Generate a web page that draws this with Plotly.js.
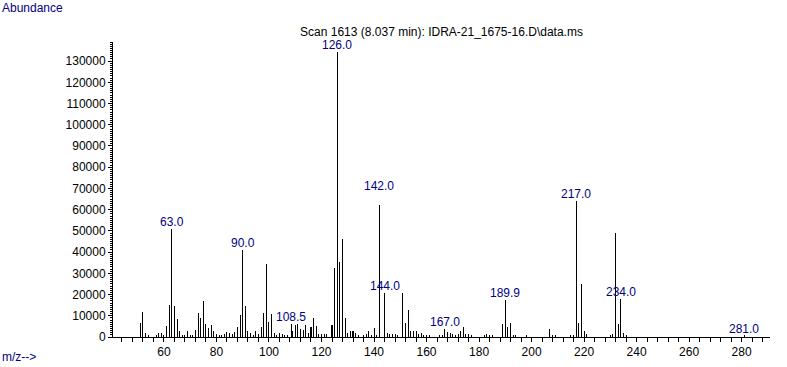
<!DOCTYPE html>
<html>
<head>
<meta charset="utf-8">
<script src="https://cdn.plot.ly/plotly-3.0.1.min.js"></script>
<style>
  html, body { margin: 0; padding: 0; background: #ffffff; }
  #chart { width: 787px; height: 367px; }
</style>
</head>
<body>
<div id="chart"></div>
<script>
// ---- data ----
var mz = [
  51, 52, 53, 54, 57, 58, 59, 60, 61, 62, 63, 64, 65, 66, 67, 68, 69, 70,
  71, 72, 73, 74, 75, 76, 77, 78, 79, 80, 81, 82, 83, 84, 85, 86, 87, 88,
  89, 90, 91, 92, 93, 94, 95, 96, 97, 98, 99, 100, 101, 102, 103, 104, 105,
  106, 107, 108.5, 109, 110, 111, 112, 113, 114, 115, 116, 117, 118, 119, 120,
  121, 122, 124, 125, 126, 127, 128, 129, 130, 131, 132, 133, 134, 136, 137,
  138, 139, 140, 141, 142, 144, 145, 146, 147, 148, 149, 151, 152, 153, 154,
  155, 156, 157, 158, 159, 160, 161, 165, 166, 167, 168, 169, 170, 171, 172,
  173, 174, 175, 176, 177, 182, 183, 184, 185, 189, 189.9, 191, 192, 193, 194,
  198, 207, 208, 209, 215, 216, 217, 218, 219, 220, 221, 230, 231, 232, 233,
  234, 235, 236, 281
];
var abundance = [
  6700, 11800, 2000, 900, 500, 2000, 2000, 1100, 5300, 15000, 50800, 14600, 8500, 2800, 500, 500, 2800, 900,
  900, 3400, 11300, 8900, 16900, 6100, 4200, 5600, 2700, 1400, 900, 900, 1400, 2400, 1900, 1600, 2400, 4700,
  10300, 41200, 14600, 2800, 1900, 900, 2800, 1400, 4700, 11300, 34300, 7100, 10800, 1900, 900, 1900, 1400,
  900, 900, 6100, 2800, 5600, 6100, 3800, 3300, 5600, 1900, 4700, 8900, 5200, 1400, 1400,
  1400, 1400, 5600, 32400, 134400, 35300, 46100, 8900, 1900, 2800, 2800, 1900, 900, 900, 1400,
  2800, 900, 4200, 900, 62000, 20500, 1900, 1400, 1400, 1400, 500, 20700, 6600, 12700, 2800,
  2800, 2800, 1400, 1900, 500, 500, 500, 900, 900, 3800, 2400, 1900, 1400, 900, 1400,
  2800, 4700, 1400, 1400, 500, 500, 1400, 500, 900, 6100, 17400, 4700, 6600, 900, 500,
  500, 3600, 900, 500, 500, 900, 63900, 6400, 24800, 2700, 1300, 500, 1300, 48900, 6000,
  17700, 1700, 900, 500
];
var labelMz   = [63, 90, 108.5, 126, 142, 144, 167, 189.9, 217, 234, 281];
var labelText = ["63.0", "90.0", "108.5", "126.0", "142.0", "144.0", "167.0", "189.9", "217.0", "234.0", "281.0"];

var titleText = "Scan 1613 (8.037 min): IDRA-21_1675-16.D\\data.ms";
var yTitleText = "Abundance";
var xTitleText = "m/z-->";

// ---- styling ----
var FONT = "'Liberation Sans', Arial, sans-serif";
var NAVY = "#000080";
var labelLift = { 142: 12 };   // extra raise (px) for labels moved up in the reference

var annotations = labelMz.map(function (m, i) {
  var idx = mz.indexOf(m);
  return {
    x: m, y: abundance[idx], xref: "x", yref: "y",
    text: labelText[i], showarrow: false,
    xanchor: "center", yanchor: "bottom",
    yshift: -2 + (labelLift[m] || 0),
    font: { family: FONT, size: 12, color: NAVY }
  };
});
annotations.push({
  xref: "paper", yref: "paper", x: -0.172, y: 1.115,
  xanchor: "left", yanchor: "middle", showarrow: false,
  text: yTitleText, font: { family: FONT, size: 12, color: NAVY }
});
annotations.push({
  xref: "paper", yref: "paper", x: -0.172, y: -0.068,
  xanchor: "left", yanchor: "middle", showarrow: false,
  text: xTitleText, font: { family: FONT, size: 12, color: NAVY }
});

var trace = {
  type: "bar",
  x: mz,
  y: abundance,
  width: 0.01,
  marker: { color: "#000000", line: { width: 0 } },
  hoverinfo: "skip"
};

var layout = {
  width: 787, height: 367,
  margin: { l: 113, r: 17, t: 42, b: 30, pad: 0 },
  paper_bgcolor: "#ffffff", plot_bgcolor: "#ffffff",
  showlegend: false,
  font: { family: FONT, size: 12, color: "#000000" },
  title: {
    text: titleText, x: 0.5, xref: "paper", xanchor: "center",
    y: 1 - 32 / 367, yanchor: "middle",
    font: { family: FONT, size: 12, color: "#000000" }
  },
  xaxis: {
    range: [40.6, 290.8], tick0: 0, dtick: 20,
    ticks: "outside", ticklen: 4, tickcolor: "#000000", tickwidth: 1,
    showline: true, linecolor: "#000000", linewidth: 1,
    showgrid: false, zeroline: false,
    tickfont: { family: FONT, size: 12, color: "#000000" },
    minor: { dtick: 4, tick0: 0, ticks: "outside", ticklen: 4, tickcolor: "#000000", tickwidth: 1, showgrid: false }
  },
  yaxis: {
    range: [0, 139000], tick0: 0, dtick: 10000, tickformat: "d",
    ticks: "outside", ticklen: 4, tickcolor: "#000000", tickwidth: 1,
    showline: true, linecolor: "#000000", linewidth: 1,
    showgrid: false, zeroline: false,
    tickfont: { family: FONT, size: 12, color: "#000000" },
    minor: { dtick: 1000, tick0: 0, ticks: "outside", ticklen: 2, tickcolor: "#000000", tickwidth: 1, showgrid: false }
  },
  bargap: 0,
  hovermode: false,
  annotations: annotations
};

Plotly.newPlot("chart", [trace], layout, { displayModeBar: false });
</script>
</body>
</html>
